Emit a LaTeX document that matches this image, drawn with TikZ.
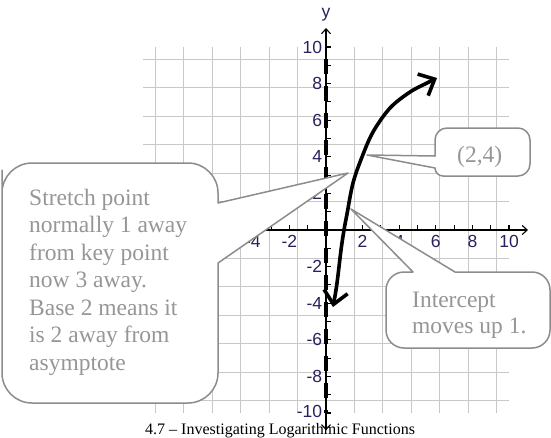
\documentclass[tikz,border=0pt]{standalone}
\usepackage{fontspec}
\setmainfont{Liberation Serif}
\newfontfamily\arialf{Liberation Sans}
\usetikzlibrary{arrows.meta}
\definecolor{gridc}{RGB}{200,200,200}
\definecolor{labc}{RGB}{45,30,95}
\definecolor{callc}{RGB}{140,140,140}
\definecolor{calltext}{RGB}{150,150,150}
\tikzset{
  callout/.style={draw=callc, fill=white, line width=1.5pt, line join=round},
  ctext/.style={text=calltext, inner sep=0pt, anchor=base west, align=left, font=\fontsize{23.5}{27.5}\selectfont},
  ticklab/.style={text=labc, inner sep=0pt, font=\arialf\fontsize{17.5}{19}\selectfont},
  axisline/.style={line width=1.1pt, black},
  axtip/.style={{Straight Barb[length=5pt,width=9pt]}-{Straight Barb[length=5pt,width=9pt]}}
}
\begin{document}
\begin{tikzpicture}[x=1pt,y=-1pt]
\useasboundingbox (0,0) rectangle (551,437);
\begin{scope}[shift={(326,230)}, x=18.3pt, y=18.3pt]
  \draw[gridc, line width=1.1pt] (-10,-10) grid (10,10);
  \coordinate (xl) at (-11,0);
  \coordinate (xr) at (11.04,0);
  \coordinate (yb) at (0,-10.95);
  \coordinate (yt) at (0,11.04);
  \draw[axisline, axtip] (xl) -- (xr);
  \draw[axisline, axtip] (yb) -- (yt);
  \foreach \i in {-10,...,10} {
    \draw[axisline] (\i,0) -- (\i,0.3);
    \draw[axisline] (0,\i) -- (0.3,\i);
  }
  \foreach \i in {-4,-2,2,4,6,8,10} {
    \node[ticklab, anchor=north] (xt\i) at (\i,-0.3) {\i};
  }
  \foreach \i in {-8,-6,-4,-2,2,4,6,8,10} {
    \node[ticklab, anchor=east] (yt\i) at (-0.2,\i) {\i};
  }
  \node[ticklab, anchor=east] (ytm10) at (-0.2,-9.93) {-10};
  \coordinate (asyT) at (0,10);
  \coordinate (asyB) at (0,-10);
  \draw[line width=4pt, dash pattern=on 15pt off 12pt, dash phase=15pt] (asyT) -- (asyB);
\end{scope}
\node[ticklab] (ylab) at (326,15) {y};
% curve
\draw[line width=3.6pt, line cap=round,
  {Straight Barb[length=13pt,width=24pt]}-{Straight Barb[length=13pt,width=24pt]}]
  plot[smooth, tension=0.55] coordinates {(333,307) (337,283) (341,250) (344,230) (347,214) (353,183) (362,157) (373,132) (390,108) (410,92) (427,83) (437,78)};
% left callout
\draw[callout] (2,200) [rounded corners=30pt] -- (2,163) -- (218,163) [sharp corners] -- (218,203) -- (348,173) -- (218,263) [rounded corners=30pt] -- (218,403) -- (2,403) -- cycle;
\node[ctext] (stretch) at (29,370) {Stretch point\\normally 1 away\\from key point\\now 3 away.\\Base 2 means it\\is 2 away from\\asymptote};
% (2,4) callout
\draw[callout] (480,128) [rounded corners=12pt] -- (530,128) -- (530,176) [rounded corners=8pt] -- (435,176) [sharp corners] -- (435,168) -- (367,155) -- (435,156) [rounded corners=12pt] -- (435,128) -- cycle;
\node[ctext] (pt24) at (457,162) {(2,4)};
% intercept callout
\draw[callout] (386,310) [rounded corners=18pt] -- (386,272) [sharp corners] -- (413,272) -- (351,209) -- (455,272) [rounded corners=18pt] -- (550,272) -- (550,348) -- (386,348) -- cycle;
\node[ctext, font=\fontsize{23.5}{26}\selectfont] (icpt) at (412,333) {Intercept\\moves up 1.};
% caption
\node[inner sep=0pt, anchor=base west, font=\fontsize{16}{18}\selectfont] (cap) at (145,434.5) {4.7 -- Investigating Logarithmic Functions};
\end{tikzpicture}
\end{document}
